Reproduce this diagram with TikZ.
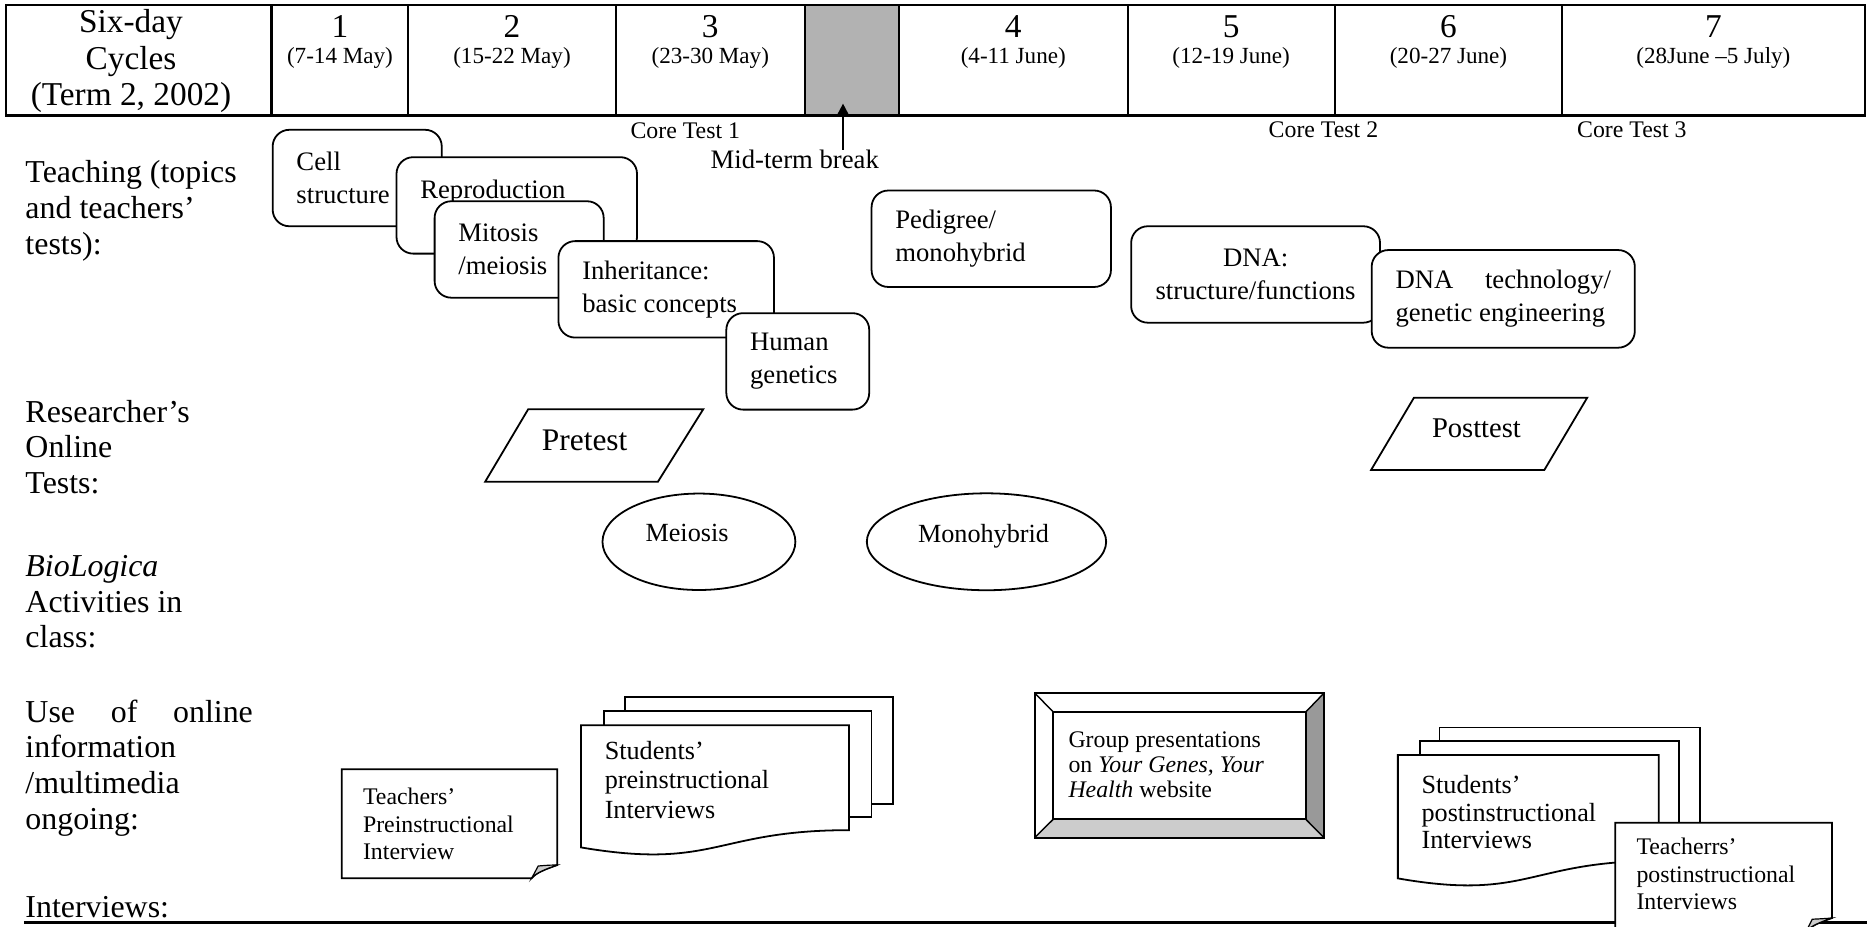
\documentclass[tikz,border=0pt]{standalone}
\usepackage{fontspec}
\setmainfont{Liberation Serif}
\usetikzlibrary{arrows.meta,shapes.geometric}

\newcommand\setfs[2]{\fontsize{#1}{#2}\selectfont}

\definecolor{breakgray}{gray}{0.70}
\definecolor{bevdark}{gray}{0.60}
\definecolor{bevlight}{gray}{0.80}
\definecolor{foldgray}{gray}{0.80}

\begin{document}
\begin{tikzpicture}[x=0.5pt,y=-0.5pt,
  every node/.style={inner sep=0pt},
  rowlabel/.style={anchor=west, align=flush left, font=\setfs{13.4pt}{15pt}},
  hbig/.style={font=\setfs{14pt}{15.3pt}},
  hsmall/.style={font=\setfs{9.7pt}{11pt}},
  coretest/.style={font=\setfs{10pt}{12pt}},
  topic/.style={draw, line width=0.75pt, fill=white, rounded corners=7pt,
    align=flush left, inner xsep=10pt, inner ysep=0pt, minimum height=40.5pt,
    font=\setfs{11.2pt}{13.7pt}},
  outline/.style={draw, line width=0.75pt},
  activity/.style={draw, ellipse, line width=0.75pt, inner sep=0pt},
  doctext/.style={anchor=west, align=flush left},
  arr/.style={line width=0.85pt, -{Triangle[length=5pt,width=5pt]}}
]
\useasboundingbox (0,0) rectangle (1568,778);

% ---- header table of six-day cycles ----
\fill[breakgray] (676,4) rectangle (755,97);
\draw[line width=0.9pt] (5,4) rectangle (1566,97);
\foreach \x in {228,343,517,676,755,947,1121,1312}
  \draw[line width=0.9pt] (\x,4) -- (\x,97);
\draw[line width=1.3pt] (5,97) -- (1566,97);

\node[hbig, align=center] (cycles) at (110,51.5) {Six-day\\Cycles\\(Term 2, 2002)};
\foreach \cx/\num/\dates in {285.5/1/{(7-14 May)}, 430/2/{(15-22 May)},
    596.5/3/{(23-30 May)}, 851/4/{(4-11 June)}, 1034/5/{(12-19 June)},
    1216.5/6/{(20-27 June)}, 1439/7/{(28June \textendash5 July)}} {
  \node[hbig] (num\num) at (\cx,22.5) {\num};
  \node[hsmall] (date\num) at (\cx,48.5) {\dates};
}

% ---- core tests and the mid-term break ----
\node[coretest] (ct1) at (575.5,110) {Core Test 1};
\node[coretest] (ct2) at (1111.5,109) {Core Test 2};
\node[coretest] (ct3) at (1370.5,109) {Core Test 3};
\node[font=\setfs{11.2pt}{13pt}] (midterm) at (667.5,134) {Mid-term break};
\coordinate (breaktip) at (708,87);
\draw[arr] (midterm.north -| breaktip) -- (breaktip);

% ---- row labels ----
\node[rowlabel] (lteach) at (21,177) {Teaching (topics\\and teachers’\\tests):};
\node[rowlabel] (lres) at (21,375.5) {Researcher’s\\Online\\Tests:};
\node[rowlabel] (lbio) at (21,505.5) {\textit{BioLogica}\\Activities in\\class:};
\node[rowlabel, text width=95.5pt] (luse) at (21,645)
  {Use\hfill of\hfill online\\information\\/multimedia\\ongoing:};
\node[rowlabel] (lint) at (21,761.5) {Interviews:};

% ---- teaching topics ----
\node[topic, text width=51pt] (cell) at (300,149.5) {Cell\\structure};
\node[topic, text width=81pt] (repro) at (434,172.5) {Reproduction\\\mbox{}};
\node[topic, text width=51pt] (mito) at (436,209.5) {Mitosis\\/meiosis};
\node[topic, text width=70.5pt] (inher) at (559.5,243) {Inheritance:\\basic concepts};
\node[topic, text width=40pt] (human) at (670,303.5) {Human\\genetics};
\node[topic, text width=80.5pt] (pedi) at (832.5,200.5) {Pedigree/\\monohybrid};
\node[topic, text width=88.5pt, inner xsep=8pt, align=center] (dna) at (1054.5,230.5)
  {DNA:\\structure/functions};
\node[topic, text width=90.5pt, minimum height=41pt] (dnatech) at (1262.5,251)
  {DNA\hfill technology/\\genetic engineering};

% ---- researcher's online tests ----
\draw[outline, fill=white] (443.6,343.7) -- (590.6,343.7) -- (552.6,404.5) -- (407.5,404.5) -- cycle;
\node[font=\setfs{13.2pt}{15pt}] (pretest) at (491,370) {Pretest};
\draw[outline, fill=white] (1187.5,334) -- (1333,334) -- (1297,394.7) -- (1151.5,394.7) -- cycle;
\node[font=\setfs{12pt}{14pt}] (posttest) at (1240,359.6) {Posttest};

% ---- BioLogica activities ----
\node[activity, minimum width=81pt, minimum height=40.5pt] (meio) at (587,455) {};
\node[font=\setfs{11pt}{13pt}] (meiotext) at (577,448) {Meiosis};
\node[activity, minimum width=100.5pt, minimum height=40.7pt] (mono) at (828.5,455) {};
\node[font=\setfs{11pt}{13pt}] (monotext) at (826,450) {Monohybrid};

% ---- group presentations (bevelled frame) ----
\fill[bevdark] (1096.6,598) -- (1112,582) -- (1112,703.5) -- (1096.6,688) -- cycle;
\fill[bevlight] (884.6,688) -- (1096.6,688) -- (1112,703.5) -- (869,703.5) -- cycle;
\draw[line width=0.9pt] (869,582) rectangle (1112,703.5);
\draw[line width=0.75pt] (884.6,598) rectangle (1096.6,688);
\draw[line width=0.6pt] (869,582) -- (884.6,598) (1112,582) -- (1096.6,598)
  (1112,703.5) -- (1096.6,688) (869,703.5) -- (884.6,688);
\node[doctext, font=\setfs{10pt}{10.5pt}] (group) at (897,642.5)
  {Group presentations\\on \textit{Your Genes, Your}\\\textit{Health} website};

% ---- teachers' preinstructional interview (note with folded corner) ----
\draw[outline, fill=white] (287,646) -- (468,646) -- (468,726.5)
  .. controls (458,730) and (450,733) .. (446.5,737.6) -- (287,737.6) -- cycle;
\filldraw[fill=foldgray, line width=0.5pt] (468,726.5) .. controls (462,726.5) .. (452,727.3)
  -- (446.5,737.6) .. controls (450,733) and (458,730) .. cycle;
\node[doctext, font=\setfs{10pt}{11.5pt}] (tpre) at (304.5,692)
  {Teachers’\\Preinstructional\\Interview};

% ---- students' preinstructional interviews (stack of documents) ----
\draw[outline] (525,597) -- (525,585.6) -- (750,585.6) -- (750,675) -- (732,675);
\draw[outline] (507,609) -- (507,597) -- (732,597) -- (732,686) -- (713,686);
\draw[outline, fill=white] (488,609) -- (713,609) -- (713,697.2)
  .. controls (600.5,697.2) and (600.5,730.8) .. (488,711.7) -- cycle;
\node[doctext, font=\setfs{11pt}{12.5pt}] (spre) at (507.5,655)
  {Students’\\preinstructional\\Interviews};

% ---- students' postinstructional interviews (stack of documents) ----
\draw[outline] (1209,622) -- (1209,611) -- (1428,611) -- (1428,700) -- (1410,700);
\draw[outline] (1192.6,634) -- (1192.6,622) -- (1410,622) -- (1410,711) -- (1393,711);
\draw[outline, fill=white] (1174,634) -- (1393,634) -- (1393,723)
  .. controls (1283.5,723) and (1283.5,756.9) .. (1174,737.7) -- cycle;
\node[doctext, font=\setfs{11pt}{11.7pt}] (spost) at (1193.5,682)
  {Students’\\postinstructional\\Interviews};

% ---- closing rule ----
\draw[line width=1.2pt] (20,775) -- (1568,775);

% ---- teachers' postinstructional interviews (note with folded corner) ----
\draw[outline, fill=white] (1356.5,691) -- (1538.5,691) -- (1538.5,771)
  .. controls (1528.5,774.5) and (1521,777.5) .. (1517,782) -- (1356.5,782) -- cycle;
\filldraw[fill=foldgray, line width=0.5pt] (1538.5,771) .. controls (1532,771.5) .. (1522,772)
  -- (1517,782) .. controls (1521,777.5) and (1528.5,774.5) .. cycle;
\node[doctext, font=\setfs{10pt}{11.5pt}] (tpost) at (1374,734)
  {Teacherrs’\\postinstructional\\Interviews};
\end{tikzpicture}
\end{document}
